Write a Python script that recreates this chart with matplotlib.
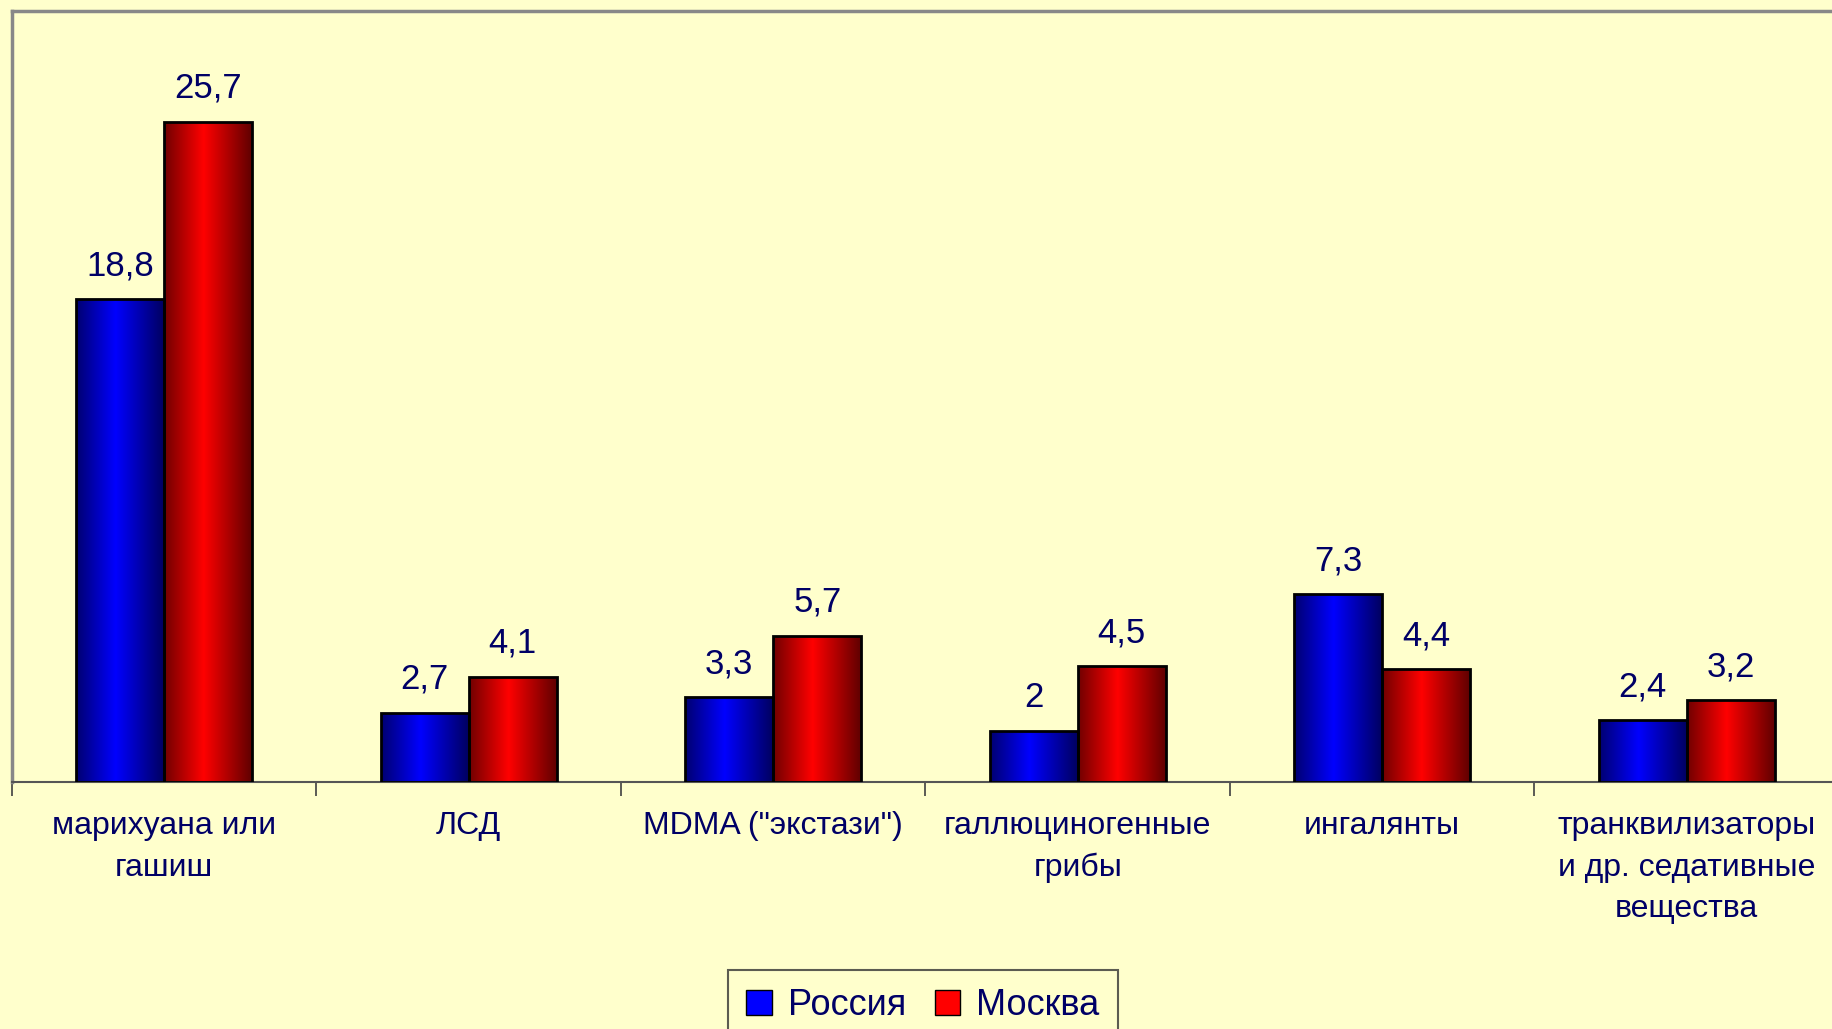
import numpy as np
import matplotlib
matplotlib.use("Agg")
import matplotlib.pyplot as plt
from matplotlib.colors import LinearSegmentedColormap
from matplotlib.patches import Patch

categories = ["марихуана или\nгашиш", "ЛСД", "MDMA (\"экстази\")",
              "галлюциногенные\nгрибы", "ингалянты",
              "транквилизаторы\nи др. седативные\nвещества"]
russia = [18.8, 2.7, 3.3, 2.0, 7.3, 2.4]
moscow = [25.7, 4.1, 5.7, 4.5, 4.4, 3.2]
russia_labels = ["18,8", "2,7", "3,3", "2", "7,3", "2,4"]
moscow_labels = ["25,7", "4,1", "5,7", "4,5", "4,4", "3,2"]
series_names = ["Россия", "Москва"]

bg = "#FFFFCC"
txt = "#000066"
plt.rcParams['font.family'] = ['Liberation Sans', 'DejaVu Sans']

W, H = 1833, 1029
fig = plt.figure(figsize=(W/100, H/100), dpi=100, facecolor=bg)
left, top, base = 12, 11, 782
catw = 304.5
ax = fig.add_axes([left/W, (H-base)/H, 6*catw/W, (base-top)/H])
ax.set_facecolor(bg)

cm_blue = LinearSegmentedColormap.from_list("b", [(0, "#000070"), (0.45, "#0000FF"), (1, "#000060")])
cm_red = LinearSegmentedColormap.from_list("r", [(0, "#700000"), (0.45, "#FF0000"), (1, "#600000")])

bw = 88/catw
x = np.arange(len(categories))
grad = np.linspace(0, 1, 256).reshape(1, -1)

def draw(xs, vals, labels, cmap):
    bars = ax.bar(xs, vals, width=bw, facecolor="none", edgecolor="black", linewidth=2, zorder=3)
    for b, lab in zip(bars, labels):
        x0, w, h = b.get_x(), b.get_width(), b.get_height()
        im = ax.imshow(grad, cmap=cmap, aspect="auto", extent=[x0, x0+w, 0, h], zorder=2)
        im.set_clip_path(b)
        ax.annotate(lab, (x0 + w/2, h), xytext=(0, 12), textcoords="offset points",
                    ha="center", va="bottom", fontsize=25, color=txt)
    return bars

draw(x - bw/2, russia, russia_labels, cm_blue)
draw(x + bw/2, moscow, moscow_labels, cm_red)
ax.set_xlim(-0.5, 5.5)
ax.set_ylim(0, 30)

ax.set_yticks([])
ax.set_xticks(np.arange(-0.5, 6, 1))
ax.set_xticklabels([])
ax.tick_params(axis="x", direction="out", length=10, width=1.2, color="#404040")
for i, c in enumerate(categories):
    ax.annotate(c, (i, 0), xytext=(0, -21), textcoords="offset points",
                ha="center", va="top", fontsize=23, color=txt, linespacing=1.5)

for s in ["left", "top"]:
    ax.spines[s].set_color("#888888")
    ax.spines[s].set_linewidth(2.5)
ax.spines["bottom"].set_color("#555555")
ax.spines["bottom"].set_linewidth(1.5)
ax.spines["right"].set_visible(False)

handles = [Patch(facecolor="#0000FF", edgecolor="black", label=series_names[0]),
           Patch(facecolor="#FF0000", edgecolor="black", label=series_names[1])]
leg = fig.legend(handles=handles, loc="upper center", bbox_to_anchor=(923/W, 1 - 970/H),
                 ncol=2, frameon=True, fancybox=False, fontsize=26, handlelength=0.7,
                 handleheight=0.7, handletextpad=0.45, columnspacing=0.8,
                 borderpad=0.5, borderaxespad=0, labelcolor=txt)
leg.get_frame().set_facecolor(bg)
leg.get_frame().set_edgecolor("#333333")
leg.get_frame().set_linewidth(1.5)

fig.savefig("out.png", dpi=100, facecolor=bg)
